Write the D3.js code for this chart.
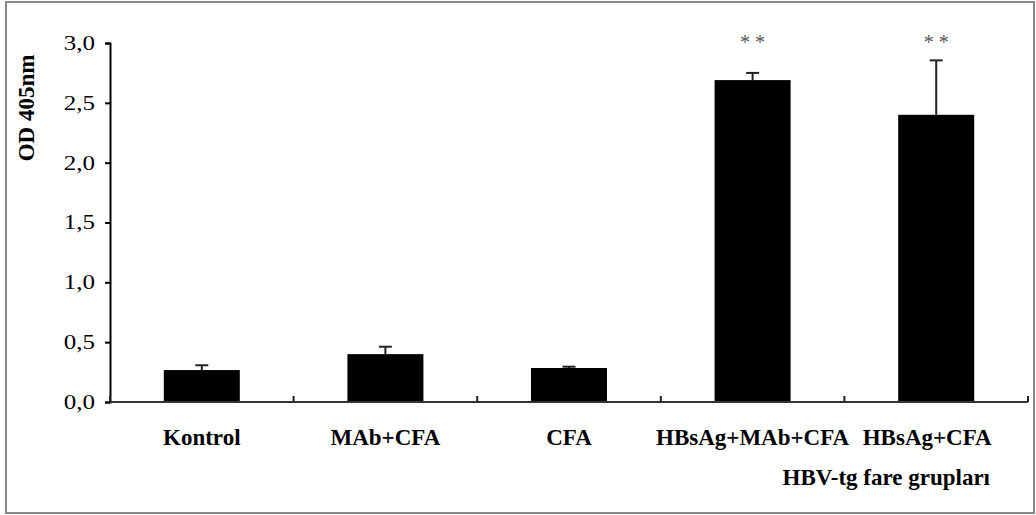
<!DOCTYPE html>
<html>
<head>
<meta charset="utf-8">
<script src="https://cdn.jsdelivr.net/npm/d3@7"></script>
<style>
  body { margin: 0; background: #fff; }
  text { font-family: "Liberation Serif", "Times New Roman", serif; }
</style>
</head>
<body>
<svg id="chart" width="1036" height="515"></svg>
<script>
// data
let groups = ['Kontrol', 'MAb+CFA', 'CFA', 'HBsAg+MAb+CFA', 'HBsAg+CFA'];
let means = [0.267, 0.40, 0.284, 2.69, 2.40];
let errors = [0.04, 0.062, 0.011, 0.06, 0.455];
let marks = ['', '', '', '* *', '* *'];
let yTicks = [0, 0.5, 1, 1.5, 2, 2.5, 3];

function renderChart(svg) {
  svg = d3.select(svg);

  // outer frame
  svg
    .append('rect')
    .attr('x', 6)
    .attr('y', 2)
    .attr('width', 1028)
    .attr('height', 511)
    .attr('fill', 'none')
    .attr('stroke', '#888')
    .attr('stroke-width', 2);

  let x = d3.scaleBand().domain(groups).range([110, 1028]).padding(0);
  let y = d3.scaleLinear().domain([0, 3]).range([402, 43]);
  let barW = x.bandwidth() * 0.414;

  let g = svg.append('g');

  // bars
  g.selectAll('rect.bar')
    .data(groups)
    .enter()
    .append('rect')
    .attr('class', 'bar')
    .attr('x', (d, i) => x(d) + x.bandwidth() / 2 - barW / 2)
    .attr('y', (d, i) => y(means[i]))
    .attr('width', barW)
    .attr('height', (d, i) => y(0) - y(means[i]))
    .attr('fill', '#000');

  // upper error bars
  let err = g.selectAll('g.err')
    .data(groups)
    .enter()
    .append('g')
    .attr('class', 'err')
    .attr('stroke', '#222')
    .attr('stroke-width', 2);
  err.append('line')
    .attr('x1', d => x(d) + x.bandwidth() / 2)
    .attr('x2', d => x(d) + x.bandwidth() / 2)
    .attr('y1', (d, i) => y(means[i]))
    .attr('y2', (d, i) => y(means[i] + errors[i]));
  err.append('line')
    .attr('x1', d => x(d) + x.bandwidth() / 2 - 6.5)
    .attr('x2', d => x(d) + x.bandwidth() / 2 + 6.5)
    .attr('y1', (d, i) => y(means[i] + errors[i]))
    .attr('y2', (d, i) => y(means[i] + errors[i]));

  // significance stars
  g.selectAll('text.star')
    .data(groups)
    .enter()
    .append('text')
    .attr('class', 'star')
    .attr('x', d => x(d) + x.bandwidth() / 2)
    .attr('y', 49)
    .attr('text-anchor', 'middle')
    .attr('font-size', 20)
    .attr('fill', '#555')
    .text((d, i) => marks[i]);

  // y axis
  let yAxis = svg
    .append('g')
    .attr('transform', 'translate(110,0)')
    .call(
      d3.axisLeft(y)
        .tickValues(yTicks)
        .tickSize(5)
        .tickPadding(10)
        .tickFormat(d => d3.format('.1f')(d).replace('.', ','))
    );
  yAxis.select('.domain').attr('stroke', '#000').attr('stroke-width', 2);
  yAxis.selectAll('.tick line').attr('stroke', '#000').attr('stroke-width', 2);
  // reference glyphs look horizontally stretched
  yAxis.selectAll('.tick text')
    .attr('font-size', 20)
    .attr('x', -15 / 1.25)
    .attr('transform', 'scale(1.25,1)')
    .attr('fill', '#000');

  // x axis: line with category boundary ticks pointing up
  let xAxis = svg.append('g');
  xAxis.append('line')
    .attr('x1', 110)
    .attr('x2', 1028)
    .attr('y1', y(0))
    .attr('y2', y(0))
    .attr('stroke', '#333')
    .attr('stroke-width', 2);
  let bounds = groups.map(d => x(d)).concat([x.range()[1]]);
  xAxis.selectAll('line.tk')
    .data(bounds)
    .enter()
    .append('line')
    .attr('class', 'tk')
    .attr('x1', d => d)
    .attr('x2', d => d)
    .attr('y1', y(0))
    .attr('y2', y(0) - 6)
    .attr('stroke', '#222')
    .attr('stroke-width', 2);

  xAxis.selectAll('text.cat')
    .data(groups)
    .enter()
    .append('text')
    .attr('class', 'cat')
    .attr('x', (d, i) => x(d) + x.bandwidth() / 2 - (i === groups.length - 1 ? 9 : 0))
    .attr('y', 445)
    .attr('text-anchor', 'middle')
    .attr('font-size', 23)
    .attr('font-weight', 'bold')
    .text(d => d);

  // axis titles
  svg.append('text')
    .attr('x', 990)
    .attr('y', 485)
    .attr('text-anchor', 'end')
    .attr('font-size', 23)
    .attr('font-weight', 'bold')
    .text('HBV-tg fare grupları');

  svg.append('text')
    .attr('transform', 'translate(34,108) rotate(-90)')
    .attr('text-anchor', 'middle')
    .attr('font-size', 23)
    .attr('font-weight', 'bold')
    .text('OD 405nm');
}

renderChart(document.getElementById('chart'));
</script>
</body>
</html>
